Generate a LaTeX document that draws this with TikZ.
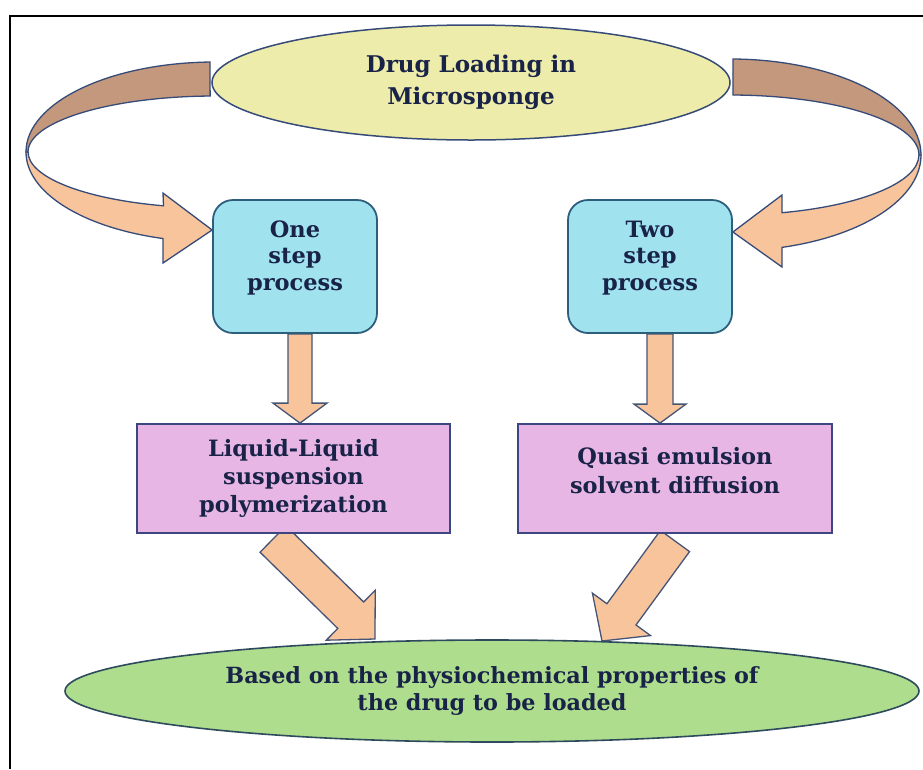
\documentclass[tikz,border=0pt]{standalone}
\usepackage{fontspec}
\setmainfont{DejaVu Serif}
\usetikzlibrary{shapes.geometric,calc}
\definecolor{textc}{RGB}{25,35,72}
\definecolor{topfill}{RGB}{238,236,170}
\definecolor{topline}{RGB}{55,75,120}
\definecolor{stepfill}{RGB}{160,227,239}
\definecolor{stepline}{RGB}{45,95,125}
\definecolor{procfill}{RGB}{231,182,229}
\definecolor{procline}{RGB}{60,70,128}
\definecolor{arrfill}{RGB}{248,196,156}
\definecolor{arrline}{RGB}{70,85,118}
\definecolor{darkband}{RGB}{196,152,124}
\definecolor{botfill}{RGB}{174,221,142}
\definecolor{botline}{RGB}{45,75,92}
\pgfdeclarelayer{bg}\pgfdeclarelayer{arr}\pgfsetlayers{bg,arr,main}
\newcommand\blockarr[6]{%
  \path (#2) coordinate (ba-s) (#3) coordinate (ba-e);
  \path ($(ba-e)!#6!(ba-s)$) coordinate (ba-h);
  \draw[#1] ($(ba-s)!#4!90:(ba-e)$) -- ($(ba-h)!#4!90:(ba-e)$) -- ($(ba-h)!#5!90:(ba-e)$) -- (ba-e)
    -- ($(ba-h)!#5!-90:(ba-e)$) -- ($(ba-h)!#4!-90:(ba-e)$) -- ($(ba-s)!#4!-90:(ba-e)$) -- cycle;
}
\tikzset{
  topell/.style={ellipse, draw=topline, fill=topfill, line width=1.5pt, minimum width=518pt,
    minimum height=115pt, inner sep=0pt, text=textc, align=center,
    font=\fontsize{23}{32}\selectfont\bfseries},
  stepbox/.style={rectangle, rounded corners=20pt, draw=stepline, fill=stepfill, line width=1.8pt,
    minimum width=164pt, minimum height=133pt, inner sep=0pt, text=textc, align=center,
    font=\fontsize{22.5}{26.5}\selectfont\bfseries, text depth=22pt},
  procbox/.style={rectangle, draw=procline, fill=procfill, line width=1.8pt,
    minimum width=313pt, minimum height=109pt, inner sep=0pt, text=textc, align=center,
    font=\fontsize{22.5}{28}\selectfont\bfseries},
  botell/.style={ellipse, draw=botline, fill=botfill, line width=1.6pt, minimum width=854pt,
    minimum height=102pt, inner sep=0pt, text=textc, align=center,
    font=\fontsize{22.3}{27}\selectfont\bfseries},
  fatarrow/.style={draw=arrline, fill=arrfill, line width=1.3pt, line join=miter},
  backband/.style={draw=topline, fill=darkband, line width=1.3pt, line join=miter},
  frontband/.style={draw=topline, fill=arrfill, line width=1.3pt, line join=miter},
  frame/.style={draw=black, line width=1.4pt}
}
\begin{document}
\begin{tikzpicture}[x=1pt,y=-1pt]
\begin{pgfonlayer}{bg}
  \fill[white] (0,0) rectangle (923,769);
\end{pgfonlayer}
\useasboundingbox (0,0) rectangle (923,769);
\draw[frame] (10,769) -- (10,16) -- (923,16);
% nodes
\node[topell] (top) at (471,82.5) {Drug Loading in\\Microsponge};
\node[stepbox] (one) at (295,266.5) {One\\step\\process};
\node[stepbox] (two) at (650,266.5) {Two\\step\\process};
\node[procbox] (liq) at (293.5,478.5) {Liquid-Liquid\\suspension\\polymerization};
\node[procbox, minimum width=314pt, font=\fontsize{22.5}{29}\selectfont\bfseries, text depth=17pt]
  (qua) at (675,478.5) {Quasi emulsion\\solvent diffusion};
\node[botell] (base) at (492,691) {Based on the physiochemical properties of\\the drug to be loaded};
\begin{pgfonlayer}{arr}
  % left curved arrow
  \draw[backband] (210.05,62.03) arc[start angle=268.5, end angle=180, x radius=189, y radius=90]
    -- (28,152) arc[start angle=180, end angle=268.5, x radius=187, y radius=56] -- cycle;
  \draw[frontband] (26,152) arc[start angle=180, end angle=106, x radius=189, y radius=90]
    -- (163,263) -- (one.west |- 0,230) -- (163,193) -- (163.5,205.8)
    arc[start angle=106, end angle=180, x radius=187, y radius=56] -- cycle;
  % right curved arrow
  \draw[backband] (733.0,59.0) arc[start angle=270.9, end angle=360, x radius=191, y radius=96]
    -- (919,155) arc[start angle=360, end angle=270.9, x radius=189, y radius=60] -- cycle;
  \draw[frontband] (921,155) arc[start angle=0, end angle=74.2, x radius=191, y radius=96]
    -- (782,267) -- (two.east |- 0,232) -- (782,195) -- (782,212.7)
    arc[start angle=74, end angle=0, x radius=189, y radius=60] -- cycle;
  % straight block arrows
  \blockarr{fatarrow}{[xshift=5pt]one.south}{[xshift=6.5pt]liq.north}{12pt}{27pt}{20pt}
  \blockarr{fatarrow}{[xshift=10pt]two.south}{[xshift=-15pt]qua.north}{13pt}{26pt}{19pt}
  \blockarr{fatarrow}{273,539}{375,639}{18.5pt}{35pt}{34pt}
  \blockarr{fatarrow}{675,541}{602,641}{18pt}{36pt}{33pt}
\end{pgfonlayer}
\end{tikzpicture}
\end{document}
